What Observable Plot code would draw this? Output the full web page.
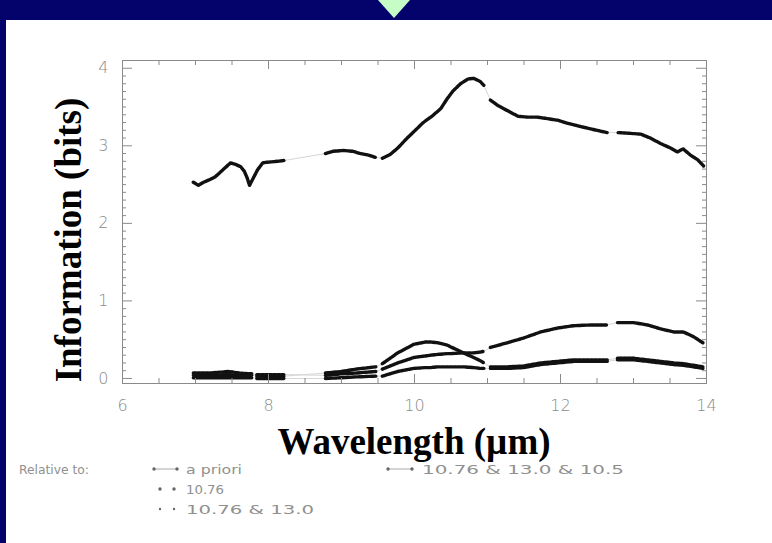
<!DOCTYPE html>
<html><head><meta charset="utf-8">
<script src="https://cdn.jsdelivr.net/npm/d3@7"></script>
<script src="https://cdn.jsdelivr.net/npm/@observablehq/plot@0.6"></script>
<style>
html,body{margin:0;padding:0;background:#fff;}
#page{position:relative;width:772px;height:543px;overflow:hidden;background:#fff;}
#topband{position:absolute;left:0;top:0;width:772px;height:20px;background:#03036b;}
#leftband{position:absolute;left:0;top:0;width:6px;height:543px;background:#03036b;}
#tri{position:absolute;left:378px;top:0;width:0;height:0;border-left:16px solid transparent;border-right:16px solid transparent;border-top:18px solid #c6fcc6;}
#chart{position:absolute;left:0;top:0;}
.title{position:absolute;font-family:"Liberation Serif","Times New Roman",serif;font-weight:bold;font-size:37px;color:#000;white-space:nowrap;line-height:1;}
#ytitle{left:68px;top:240px;transform:translate(-50%,-50%) rotate(-90deg);}
#xtitle{left:414px;top:441px;transform:translate(-50%,-50%);}
#legend{position:absolute;left:0;top:0;pointer-events:none;}
</style>
</head>
<body>
<div id="page">
  <div id="chart"></div>
  <div id="topband"></div>
  <div id="leftband"></div>
  <div id="tri"></div>
  <div class="title" id="ytitle">Information (bits)</div>
  <div class="title" id="xtitle">Wavelength (µm)</div>
  <svg id="legend" width="772" height="543"></svg>
</div>
<script>
// ---------- data (null = gap in the record) ----------
const aprioriWl = [6.97,7.04,7.11,7.21,7.27,7.34,7.41,7.48,7.55,7.62,7.67,7.71,7.74,7.85,7.92,8.00,8.12,8.21,8.50,8.78,8.89,9.03,9.15,9.26,9.37,9.47,9.51,9.56,9.67,9.78,9.90,10.01,10.12,10.25,10.36,10.45,10.53,10.63,10.73,10.81,10.90,10.95,11.00,11.04,11.14,11.22,11.32,11.42,11.55,11.68,11.82,11.96,12.10,12.27,12.45,12.64,12.71,12.79,12.96,13.10,13.23,13.37,13.51,13.60,13.68,13.78,13.88,13.96];
const aprioriInfo = [2.53,2.49,2.53,2.57,2.60,2.66,2.72,2.78,2.76,2.73,2.67,2.58,2.49,2.69,2.78,2.79,2.80,2.81,null,2.90,2.93,2.94,2.93,2.90,2.88,2.85,null,2.84,2.89,2.98,3.10,3.20,3.30,3.39,3.48,3.61,3.71,3.80,3.86,3.87,3.83,3.78,null,3.59,3.52,3.48,3.43,3.38,3.37,3.37,3.35,3.33,3.29,3.25,3.21,3.17,null,3.17,3.16,3.15,3.10,3.03,2.97,2.92,2.96,2.88,2.82,2.74];

const lowWl = [6.97,7.20,7.45,7.60,7.77,7.80,7.84,8.00,8.22,8.50,8.78,9.00,9.20,9.47,9.51,9.56,9.77,9.99,10.15,10.22,10.32,10.45,10.49,10.67,10.81,10.90,10.95,11.00,11.04,11.27,11.49,11.73,11.96,12.18,12.41,12.64,12.71,12.78,13.00,13.19,13.37,13.55,13.68,13.82,13.95];
const rel1076Info = [0.07,0.07,0.09,0.07,0.06,null,0.05,0.05,0.05,null,0.04,0.06,0.07,0.09,null,0.12,0.20,0.27,0.29,0.30,0.31,0.32,0.32,0.33,0.33,0.34,0.35,null,0.40,0.46,0.52,0.60,0.65,0.68,0.69,0.69,null,0.72,0.72,0.69,0.64,0.60,0.60,0.54,0.46];
const rel1076_130Info = [0.04,0.04,0.05,0.04,0.04,null,0.03,0.03,0.03,null,0.07,0.09,0.12,0.15,null,0.19,0.33,0.44,0.47,0.47,0.46,0.43,0.41,0.33,0.27,0.23,0.20,null,0.15,0.15,0.16,0.20,0.22,0.24,0.24,0.24,null,0.26,0.26,0.24,0.22,0.20,0.19,0.17,0.15];
const rel1076_130_105Info = [0.01,0.01,0.01,0.01,0.01,null,0.00,0.00,0.00,null,0.00,0.01,0.02,0.03,null,0.03,0.09,0.13,0.14,0.14,0.15,0.15,0.15,0.15,0.14,0.13,0.13,null,0.13,0.13,0.14,0.18,0.20,0.22,0.22,0.22,null,0.24,0.24,0.22,0.20,0.18,0.17,0.15,0.13];

const seriesNames = ["a priori","10.76","10.76 & 13.0","10.76 & 13.0 & 10.5"];
const xMajorTicks = [6,8,10,12,14];
const yMajorTicks = [0,1,2,3,4];

// ---------- build table ----------
function rows(wl, vals, name){ return wl.map((w,i)=>({wl:w, info:vals[i], series:name})); }
const data = [
  ...rows(aprioriWl, aprioriInfo, seriesNames[0]),
  ...rows(lowWl, rel1076Info, seriesNames[1]),
  ...rows(lowWl, rel1076_130Info, seriesNames[2]),
  ...rows(lowWl, rel1076_130_105Info, seriesNames[3])
];
const present = data.filter(d => d.info != null);

// ---------- layout ----------
const W = 772, H = 543, mL = 122, mR = 66, mT = 60, mB = 160;
const innerW = W - mL - mR, innerH = H - mT - mB;
const xMinor = d3.range(6, 14.001, 0.5).filter(v => !xMajorTicks.includes(v));
const yMinor = d3.range(0, 4.001, 0.1).map(v => +v.toFixed(1)).filter(v => !yMajorTicks.includes(v));
const frameGray = "#8a8a8a";

const chart = Plot.plot({
  width: W, height: H,
  marginLeft: mL, marginRight: mR, marginTop: mT, marginBottom: mB,
  x: {domain: [6, 14]},
  y: {domain: [-0.065, 4.1]},
  style: {fontFamily: "'DejaVu Sans', Arial, sans-serif", fontSize: "16px", color: "#8a8a8a", background: "transparent"},
  marks: [
    // faint connecting line through gaps
    Plot.line(present, {x: "wl", y: "info", z: "series", stroke: "#d6d6d6", strokeWidth: 1}),
    // data
    Plot.line(data, {x: "wl", y: "info", z: "series", stroke: "#111", strokeWidth: 3.4, strokeDasharray: "3,1"}),
    // frame and inward ticks
    Plot.frame({stroke: frameGray}),
    Plot.tickX(xMinor, {x: d => d, insetTop: innerH - 5, stroke: frameGray}),
    Plot.tickX(xMinor, {x: d => d, insetBottom: innerH - 5, stroke: frameGray}),
    Plot.tickX(xMajorTicks, {x: d => d, insetTop: innerH - 9, stroke: frameGray}),
    Plot.tickX(xMajorTicks, {x: d => d, insetBottom: innerH - 9, stroke: frameGray}),
    Plot.tickY(yMinor, {y: d => d, insetRight: innerW - 4, stroke: frameGray}),
    Plot.tickY(yMinor, {y: d => d, insetLeft: innerW - 4, stroke: frameGray}),
    Plot.tickY(yMajorTicks, {y: d => d, insetRight: innerW - 10, stroke: frameGray}),
    Plot.tickY(yMajorTicks, {y: d => d, insetLeft: innerW - 10, stroke: frameGray}),
    Plot.axisX({ticks: xMajorTicks, tickSize: 0, tickPadding: 16, label: null, tickFormat: d => String(d), fontWeight: 300}),
    Plot.axisY({ticks: yMajorTicks, tickSize: 0, tickPadding: 14, label: null, tickFormat: d => String(d), fontWeight: 300})
  ]
});
document.getElementById("chart").appendChild(chart);

// ---------- legend ----------
const lg = d3.select("#legend");
const legendGray = "#909090";
const txt = (x, y, s, len) => lg.append("text").attr("x", x).attr("y", y).attr("dy", "0.35em")
  .attr("fill", legendGray).attr("font-family", "'DejaVu Sans', sans-serif").attr("font-size", 13)
  .attr("textLength", len).attr("lengthAdjust", "spacingAndGlyphs").text(s);
txt(19, 469, "Relative to:", 70);
const legendLayout = [
  {sx: 154, ex: 177, y: 469, tx: 186, len: 56, kind: "dotline"},
  {sx: 160, ex: 174, y: 489, tx: 186, len: 38, kind: "dots"},
  {sx: 160, ex: 174, y: 509, tx: 186, len: 128, kind: "small"},
  {sx: 388, ex: 412, y: 469, tx: 422, len: 202, kind: "dotline"}
];
seriesNames.forEach((name, i) => {
  const L = legendLayout[i];
  if (L.kind === "dotline") {
    lg.append("line").attr("x1", L.sx).attr("x2", L.ex).attr("y1", L.y).attr("y2", L.y).attr("stroke", "#aaa").attr("stroke-width", 1);
  }
  const r = L.kind === "small" ? 1.2 : 1.7;
  [L.sx, L.ex].forEach(cx => lg.append("circle").attr("cx", cx).attr("cy", L.y).attr("r", r).attr("fill", "#666"));
  txt(L.tx, L.y, name, L.len);
});
</script>
</body></html>
